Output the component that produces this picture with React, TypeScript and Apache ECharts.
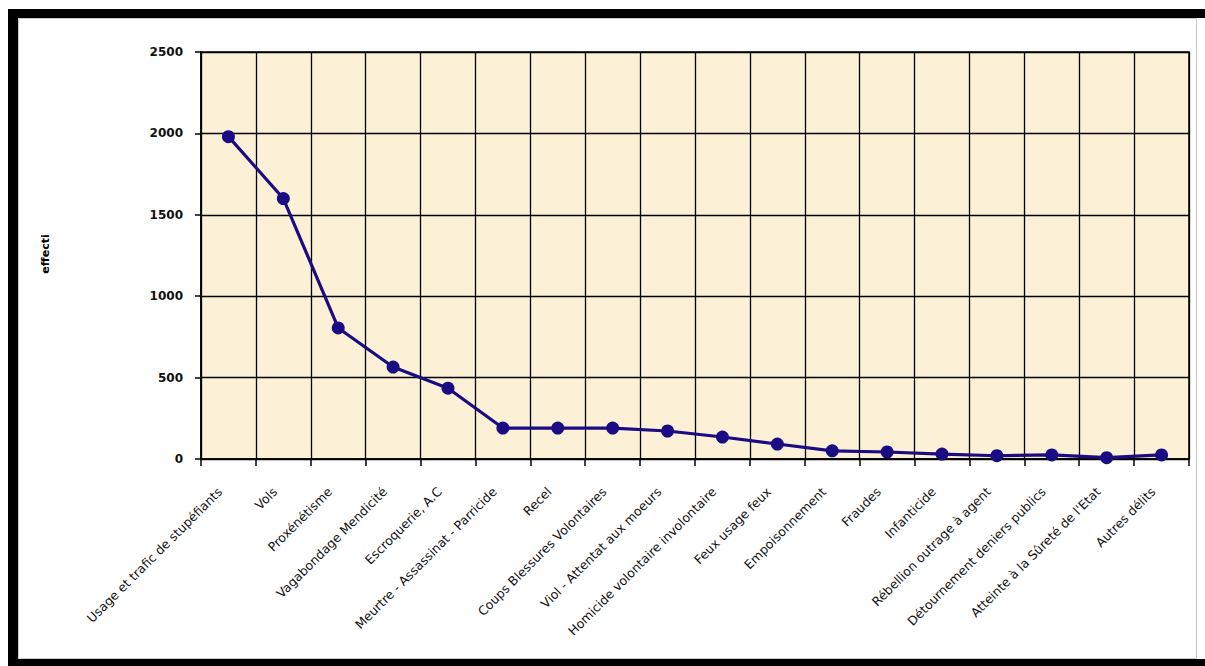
import React, { useEffect, useRef } from "react";
import * as echarts from "echarts";

// Offence categories along the horizontal axis
const categories: string[] = [
  "Usage et trafic de stupéfiants",
  "Vols",
  "Proxénétisme",
  "Vagabondage Mendicité",
  "Escroquerie, A.C",
  "Meurtre - Assassinat - Parricide",
  "Recel",
  "Coups Blessures Volontaires",
  "Viol - Attentat aux moeurs",
  "Homicide volontaire involontaire",
  "Feux usage feux",
  "Empoisonnement",
  "Fraudes",
  "Infanticide",
  "Rébellion outrage à agent",
  "Détournement deniers publics",
  "Atteinte à la Sûreté de l'Etat",
  "Autres délits",
];

// Headcount per category
const effectif: number[] = [
  1980, 1600, 805, 565, 435, 190, 190, 190, 172, 135, 92, 50, 43, 30, 20, 25, 8, 25,
];

// Value-axis ticks
const yTicks: number[] = [0, 500, 1000, 1500, 2000, 2500];

const FONT = "'DejaVu Sans', Verdana, sans-serif";

export default function App() {
  const ref = useRef<HTMLDivElement>(null);

  useEffect(() => {
    if (!ref.current) return;
    const chart = echarts.init(ref.current, null, { renderer: "svg" });
    const yMin = yTicks[0];
    const yMax = yTicks[yTicks.length - 1];
    const yStep = yTicks[1] - yTicks[0];

    chart.setOption({
      animation: false,
      backgroundColor: "#ffffff",
      graphic: [
        // outer black frame
        { type: "rect", shape: { x: 8, y: 9, width: 1197, height: 9 }, style: { fill: "#000" } },
        { type: "rect", shape: { x: 8, y: 9, width: 10, height: 657 }, style: { fill: "#000" } },
        { type: "rect", shape: { x: 8, y: 659, width: 1197, height: 7 }, style: { fill: "#000" } },
        // thin inner border
        {
          type: "rect",
          shape: { x: 18.5, y: 18.5, width: 1178, height: 640 },
          style: { fill: "none", stroke: "#c8c8c8", lineWidth: 1 },
        },
        // value-axis title
        {
          type: "text",
          x: 45,
          y: 254,
          rotation: Math.PI / 2,
          style: {
            text: "effecti",
            font: `bold 11px ${FONT}`,
            fill: "#000",
            align: "center",
            verticalAlign: "middle",
          },
        },
      ],
      grid: {
        left: 201,
        top: 52,
        width: 988,
        height: 407,
        show: true,
        backgroundColor: "#fcf0d6",
        borderColor: "#000",
        borderWidth: 1.5,
      },
      xAxis: {
        type: "category",
        data: categories,
        boundaryGap: true,
        axisLine: { lineStyle: { color: "#000", width: 1.5 } },
        axisTick: { show: true, length: 7, lineStyle: { color: "#000", width: 1.5 } },
        splitLine: { show: true, lineStyle: { color: "#000", width: 1.3 } },
        axisLabel: {
          interval: 0,
          rotate: 45,
          margin: 22,
          padding: [0, 12, 0, 0],
          color: "#111",
          fontFamily: FONT,
          fontSize: 12.5,
        },
      },
      yAxis: {
        type: "value",
        min: yMin,
        max: yMax,
        interval: yStep,
        axisLine: { show: true, lineStyle: { color: "#000", width: 1.5 } },
        axisTick: { show: true, length: 6, lineStyle: { color: "#000", width: 1.5 } },
        splitLine: { show: true, lineStyle: { color: "#000", width: 1.3 } },
        axisLabel: {
          margin: 18,
          color: "#111",
          fontFamily: FONT,
          fontSize: 12,
          fontWeight: "bold",
          formatter: (v: number) => String(v),
        },
      },
      series: [
        {
          type: "line",
          data: effectif,
          symbol: "circle",
          symbolSize: 13,
          lineStyle: { color: "#1a0c82", width: 3.2 },
          itemStyle: { color: "#1a0c82" },
        },
      ],
    });

    return () => chart.dispose();
  }, []);

  return (
    <div
      ref={ref}
      style={{ position: "absolute", left: 0, top: 0, width: 1205, height: 666 }}
    />
  );
}
